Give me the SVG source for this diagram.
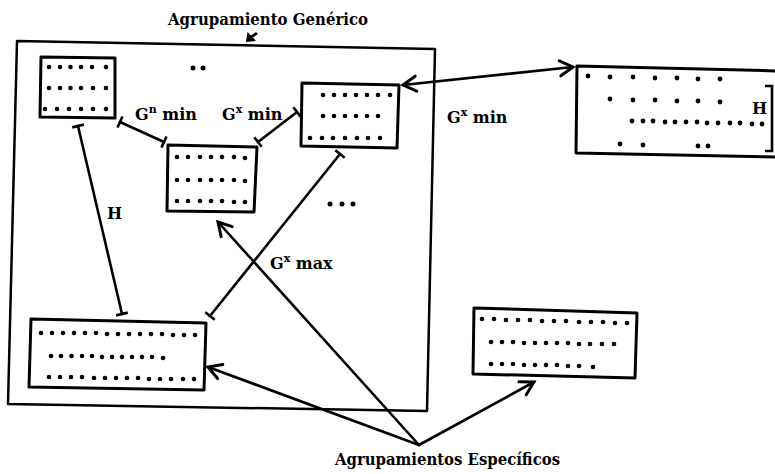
<svg xmlns="http://www.w3.org/2000/svg" width="775" height="474" viewBox="0 0 775 474">
<style>
.frame{fill:none;stroke:#000;stroke-width:2.5;stroke-linejoin:round}
.box{fill:none;stroke:#000;stroke-width:3;stroke-linejoin:round}
.dot{fill:#000}
.conn{fill:none;stroke:#000;stroke-width:2.6;stroke-linecap:round}
.lbl{font-family:"DejaVu Serif","Liberation Serif",serif;font-weight:bold;font-size:16px;fill:#000}
.sup{font-size:11px}
</style>
<defs>
<marker id="bar" markerUnits="userSpaceOnUse" markerWidth="16" markerHeight="16" refX="8" refY="8" orient="auto" viewBox="0 0 16 16">
<line x1="8" y1="2" x2="8" y2="14" stroke="#000" stroke-width="2.6"/>
</marker>
<marker id="arr" markerUnits="userSpaceOnUse" markerWidth="20" markerHeight="20" refX="17" refY="10" orient="auto-start-reverse" viewBox="0 0 20 20">
<path d="M4,2.5 L17,10 L4,17.5" fill="none" stroke="#000" stroke-width="3" stroke-linecap="round" stroke-linejoin="miter"/>
</marker>
</defs>
<rect width="775" height="474" fill="#fff"/>

<g id="generic-frame">
<path class="frame" d="M17,41 L435,49 L427,411 L8,404 Z"/>
<text class="lbl" x="168" y="25" textLength="200" lengthAdjust="spacingAndGlyphs">Agrupamiento Genérico</text>
<polygon points="246,42 247.5,32 251,35.5 256,32 258,34 253,37.5 256,41" fill="#000"/>
</g>

<g id="box-a">
<path class="box" d="M41,57 L115,58 L115,118 L40,117 Z"/>
<g class="dot">
<circle cx="49" cy="67" r="2.3"/><circle cx="60" cy="67" r="2.3"/><circle cx="70.5" cy="67" r="2.3"/><circle cx="81" cy="67" r="2.3"/><circle cx="92" cy="67" r="2.3"/><circle cx="106" cy="67" r="2.3"/>
<circle cx="49" cy="88" r="2.3"/><circle cx="60" cy="88" r="2.3"/><circle cx="70.5" cy="88" r="2.3"/><circle cx="81" cy="88" r="2.3"/><circle cx="93" cy="88" r="2.3"/><circle cx="106" cy="88" r="2.3"/>
<circle cx="45" cy="109" r="2.3"/><circle cx="57" cy="109" r="2.3"/><circle cx="69" cy="109" r="2.3"/><circle cx="81" cy="109" r="2.3"/><circle cx="93" cy="109" r="2.3"/><circle cx="106" cy="109" r="2.3"/>
</g>
</g>

<g id="dots-top">
<circle class="dot" cx="193" cy="68" r="2.5"/><circle class="dot" cx="203" cy="68" r="2.5"/>
</g>

<g id="box-b">
<path class="box" d="M302,83 L399,85 L397,148 L301,146 Z"/>
<g class="dot">
<circle cx="323" cy="95" r="2.3"/><circle cx="334" cy="95" r="2.3"/><circle cx="345" cy="95" r="2.3"/><circle cx="356" cy="95" r="2.3"/><circle cx="367" cy="95" r="2.3"/><circle cx="378" cy="95" r="2.3"/><circle cx="390" cy="95" r="2.3"/>
<circle cx="323" cy="116" r="2.3"/><circle cx="334" cy="116" r="2.3"/><circle cx="345" cy="116" r="2.3"/><circle cx="356" cy="116" r="2.3"/><circle cx="367" cy="116" r="2.3"/><circle cx="378" cy="116" r="2.3"/>
<circle cx="310" cy="138" r="2.3"/><circle cx="322" cy="138" r="2.3"/><circle cx="333" cy="138" r="2.3"/><circle cx="345" cy="138" r="2.3"/><circle cx="357" cy="138" r="2.3"/><circle cx="368" cy="138" r="2.3"/><circle cx="380" cy="138" r="2.3"/>
</g>
</g>

<g id="box-c">
<path class="box" d="M168,145 L257,147 L254,212 L167,211 Z"/>
<g class="dot">
<circle cx="177" cy="157" r="2.3"/><circle cx="188" cy="157" r="2.3"/><circle cx="200" cy="157" r="2.3"/><circle cx="211" cy="157" r="2.3"/><circle cx="222" cy="157" r="2.3"/><circle cx="234" cy="157" r="2.3"/><circle cx="245" cy="158" r="2.3"/>
<circle cx="177" cy="180" r="2.3"/><circle cx="188" cy="180" r="2.3"/><circle cx="200" cy="180" r="2.3"/><circle cx="211" cy="180" r="2.3"/><circle cx="222" cy="180" r="2.3"/><circle cx="234" cy="180" r="2.3"/><circle cx="245" cy="181" r="2.3"/>
<circle cx="177" cy="201" r="2.3"/><circle cx="188" cy="201" r="2.3"/><circle cx="200" cy="201" r="2.3"/><circle cx="211" cy="201" r="2.3"/><circle cx="222" cy="201" r="2.3"/><circle cx="234" cy="202" r="2.3"/><circle cx="245" cy="202" r="2.3"/>
</g>
</g>

<g id="dots-mid">
<circle class="dot" cx="330" cy="204" r="2.5"/><circle class="dot" cx="342" cy="204" r="2.5"/><circle class="dot" cx="353" cy="204" r="2.5"/>
</g>

<g id="box-d">
<path class="box" d="M31,319 L206,323 L204,390 L29,387 Z"/>
<g class="dot">
<circle cx="41" cy="333" r="2.3"/><circle cx="52" cy="333" r="2.3"/><circle cx="63" cy="333" r="2.3"/><circle cx="74" cy="333" r="2.3"/><circle cx="85" cy="333" r="2.3"/><circle cx="96" cy="333" r="2.3"/><circle cx="107" cy="334" r="2.3"/><circle cx="118" cy="334" r="2.3"/><circle cx="129" cy="334" r="2.3"/><circle cx="140" cy="334" r="2.3"/><circle cx="151" cy="334" r="2.3"/><circle cx="162" cy="334" r="2.3"/><circle cx="173" cy="335" r="2.3"/><circle cx="184" cy="335" r="2.3"/><circle cx="195" cy="335" r="2.3"/>
<circle cx="51" cy="356" r="2.3"/><circle cx="61" cy="356" r="2.3"/><circle cx="71.5" cy="356" r="2.3"/><circle cx="82" cy="356" r="2.3"/><circle cx="92" cy="356" r="2.3"/><circle cx="102" cy="357" r="2.3"/><circle cx="112" cy="357" r="2.3"/><circle cx="122" cy="357" r="2.3"/><circle cx="132" cy="357" r="2.3"/><circle cx="142" cy="357" r="2.3"/><circle cx="152" cy="357" r="2.3"/><circle cx="163" cy="358" r="2.3"/>
<circle cx="49" cy="377" r="2.3"/><circle cx="60" cy="377" r="2.3"/><circle cx="71" cy="377" r="2.3"/><circle cx="82" cy="377" r="2.3"/><circle cx="94" cy="378" r="2.3"/><circle cx="105" cy="378" r="2.3"/><circle cx="116" cy="378" r="2.3"/><circle cx="127" cy="378" r="2.3"/><circle cx="138" cy="378" r="2.3"/><circle cx="149" cy="379" r="2.3"/><circle cx="160" cy="379" r="2.3"/><circle cx="171" cy="379" r="2.3"/><circle cx="183" cy="379" r="2.3"/><circle cx="194" cy="379" r="2.3"/>
</g>
</g>

<g id="box-e">
<path class="box" d="M780,71 L577,66 L576,153 L780,157"/>
<g class="dot">
<circle cx="588" cy="76" r="2.4"/><circle cx="610" cy="77" r="2.4"/><circle cx="633" cy="77" r="2.4"/><circle cx="655" cy="78" r="2.4"/><circle cx="677" cy="78" r="2.4"/><circle cx="698" cy="79" r="2.4"/><circle cx="720" cy="79" r="2.4"/>
<circle cx="610" cy="99" r="2.4"/><circle cx="633" cy="100" r="2.4"/><circle cx="655" cy="100" r="2.4"/><circle cx="677" cy="101" r="2.4"/><circle cx="698" cy="101" r="2.4"/><circle cx="720" cy="102" r="2.4"/>
<circle cx="632" cy="121" r="2.4"/><circle cx="643" cy="121" r="2.4"/><circle cx="653" cy="121" r="2.4"/><circle cx="665" cy="122" r="2.4"/><circle cx="675" cy="122" r="2.4"/><circle cx="686" cy="122" r="2.4"/><circle cx="697" cy="122" r="2.4"/><circle cx="707" cy="123" r="2.4"/><circle cx="718" cy="123" r="2.4"/><circle cx="730" cy="123" r="2.4"/><circle cx="740" cy="123" r="2.4"/><circle cx="752" cy="124" r="2.4"/><circle cx="762" cy="124" r="2.4"/>
<circle cx="620" cy="144" r="2.4"/><circle cx="643" cy="145" r="2.4"/><circle cx="698" cy="146" r="2.4"/><circle cx="708" cy="146" r="2.4"/>
</g>
<path d="M765,86 L772,86 L772,151 L765,151" fill="none" stroke="#000" stroke-width="2.6"/>
<text class="lbl" x="752" y="114">H</text>
</g>

<g id="box-f">
<path class="box" d="M474,308 L637,313 L635,378 L473,374 Z"/>
<g class="dot">
<circle cx="482" cy="319" r="2.3"/><circle cx="494" cy="319" r="2.3"/><circle cx="506" cy="320" r="2.3"/><circle cx="518" cy="320" r="2.3"/><circle cx="530" cy="320" r="2.3"/><circle cx="542" cy="321" r="2.3"/><circle cx="554" cy="321" r="2.3"/><circle cx="566" cy="321" r="2.3"/><circle cx="579" cy="322" r="2.3"/><circle cx="591" cy="322" r="2.3"/><circle cx="603" cy="322" r="2.3"/><circle cx="615" cy="323" r="2.3"/><circle cx="627" cy="323" r="2.3"/>
<circle cx="491" cy="342" r="2.3"/><circle cx="502" cy="342" r="2.3"/><circle cx="513" cy="342" r="2.3"/><circle cx="524" cy="343" r="2.3"/><circle cx="535" cy="343" r="2.3"/><circle cx="546" cy="343" r="2.3"/><circle cx="557" cy="343" r="2.3"/><circle cx="568" cy="343" r="2.3"/><circle cx="579" cy="344" r="2.3"/><circle cx="590" cy="344" r="2.3"/><circle cx="602" cy="344" r="2.3"/><circle cx="614" cy="344" r="2.3"/>
<circle cx="491" cy="364" r="2.3"/><circle cx="502" cy="364" r="2.3"/><circle cx="513" cy="364" r="2.3"/><circle cx="524" cy="365" r="2.3"/><circle cx="535" cy="365" r="2.3"/><circle cx="546" cy="365" r="2.3"/><circle cx="557" cy="365" r="2.3"/><circle cx="568" cy="366" r="2.3"/><circle cx="579" cy="366" r="2.3"/><circle cx="593" cy="367" r="2.3"/>
</g>
</g>

<g id="connectors">
<line class="conn" x1="120" y1="122" x2="164" y2="142" marker-start="url(#bar)" marker-end="url(#bar)"/>
<line class="conn" x1="258" y1="142" x2="297" y2="112" marker-start="url(#bar)" marker-end="url(#bar)"/>
<line class="conn" x1="78" y1="126" x2="122" y2="314" marker-start="url(#bar)" marker-end="url(#bar)"/>
<line class="conn" x1="340" y1="154" x2="210" y2="316" marker-start="url(#bar)" marker-end="url(#bar)"/>
<line class="conn" x1="403" y1="85" x2="573" y2="67" marker-start="url(#arr)" marker-end="url(#arr)"/>
<line class="conn" x1="419" y1="445" x2="218" y2="222" marker-end="url(#arr)"/>
<line class="conn" x1="419" y1="445" x2="208" y2="367" marker-end="url(#arr)"/>
<line class="conn" x1="419" y1="445" x2="534" y2="382" marker-end="url(#arr)"/>
</g>

<g id="labels">
<text class="lbl" x="135" y="120">G<tspan class="sup" dy="-7">n</tspan><tspan dy="7"> min</tspan></text>
<text class="lbl" x="222" y="120">G<tspan class="sup" dy="-7">x</tspan><tspan dy="7"> min</tspan></text>
<text class="lbl" x="447" y="123">G<tspan class="sup" dy="-7">x</tspan><tspan dy="7"> min</tspan></text>
<text class="lbl" x="270" y="269">G<tspan class="sup" dy="-7">x</tspan><tspan dy="7"> max</tspan></text>
<text class="lbl" x="107" y="219">H</text>
<text class="lbl" x="335" y="465" textLength="225" lengthAdjust="spacingAndGlyphs">Agrupamientos Específicos</text>
</g>
</svg>
